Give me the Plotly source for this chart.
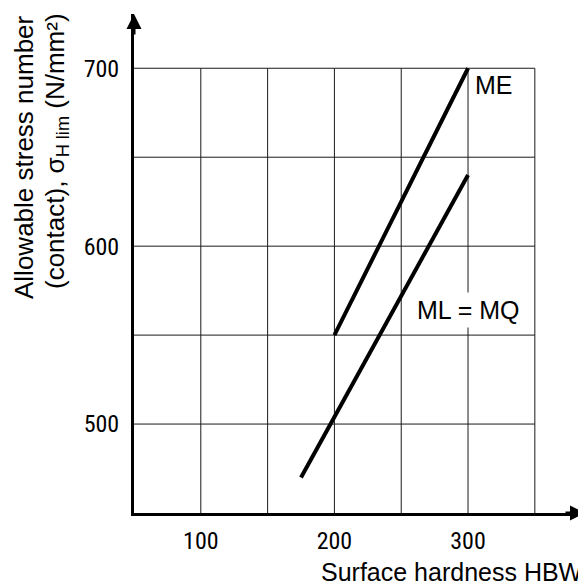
import plotly.graph_objects as go

# ---- data ----
hardness_ME = [200, 300]
stress_ME = [550, 700]
hardness_ML = [175, 300]
stress_ML = [470, 640]

x_grid = [100, 150, 200, 250, 300, 350]
y_grid = [500, 550, 600, 650, 700]
x_ticks = [100, 200, 300]
x_ticktext = ["100", "200", "300"]
y_ticks = [500, 600, 700]
y_ticktext = ["500", "600", "700"]

X_MIN, X_MAX = 50, 388.3
Y_MIN, Y_MAX = 450, 730.5

# page body has an 8px margin: figure drawn at offset (8, 8)
OFF = 8
L, T, B = 134 - OFF, 14 - OFF, 73
W = H = 586 - OFF
PW, PH = W - L, H - T - B


def px_x(p):
    return (p - OFF - L) / PW


def px_y(p):
    return (H - B - (p - OFF)) / PH


fig = go.Figure()

# grid lines
gx, gy = [], []
for xv in x_grid:
    gx += [xv, xv, None]
    gy += [Y_MIN, y_grid[-1], None]
for yv in y_grid:
    gx += [X_MIN, x_grid[-1], None]
    gy += [yv, yv, None]
fig.add_trace(go.Scatter(x=gx, y=gy, mode="lines",
                         line=dict(color="#1a1a1a", width=1),
                         hoverinfo="skip", showlegend=False))

fig.add_trace(go.Scatter(x=hardness_ME, y=stress_ME, mode="lines",
                         line=dict(color="black", width=4), showlegend=False))
fig.add_trace(go.Scatter(x=hardness_ML, y=stress_ML, mode="lines",
                         line=dict(color="black", width=4), showlegend=False))

tickfont = dict(family="Liberation Sans Narrow, Roboto Condensed, DejaVu Sans Condensed, Liberation Sans",
                size=24, color="black")
titlefont = "Liberation Sans, Arial, sans-serif"

fig.update_xaxes(range=[X_MIN, X_MAX], showgrid=False, zeroline=False,
                 showline=True, linecolor="black", linewidth=3,
                 tickvals=x_ticks, ticktext=x_ticktext, ticks="outside",
                 ticklen=4, tickcolor="rgba(0,0,0,0)", tickfont=tickfont)
fig.update_yaxes(range=[Y_MIN, Y_MAX], showgrid=False, zeroline=False,
                 showline=True, linecolor="black", linewidth=3,
                 tickvals=y_ticks, ticktext=y_ticktext, ticks="outside",
                 ticklen=7, tickcolor="rgba(0,0,0,0)", tickfont=tickfont)

annotations = [
    # axis arrowheads
    dict(x=1, y=0, xref="paper", yref="paper", ax=-22, ay=0, text="",
         showarrow=True, arrowhead=2, arrowsize=1, arrowwidth=3, arrowcolor="black"),
    dict(x=0, y=1, xref="paper", yref="paper", ax=0, ay=22, text="",
         showarrow=True, arrowhead=2, arrowsize=1, arrowwidth=3, arrowcolor="black"),
    # axis titles
    dict(x=px_x(585), y=px_y(572), xref="paper", yref="paper", xanchor="right", yanchor="middle",
         text="Surface hardness HBW", showarrow=False,
         font=dict(family=titlefont, size=25, color="black")),
    dict(x=px_x(24), y=px_y(13), xref="paper", yref="paper",
         xanchor="center", yanchor="top", textangle=-90,
         text="Allowable stress number", showarrow=False,
         font=dict(family=titlefont, size=26, color="black")),
    dict(x=px_x(56), y=px_y(11), xref="paper", yref="paper",
         xanchor="center", yanchor="top", textangle=-90,
         text="(contact), σ<sub>H lim</sub> (N/mm²)", showarrow=False,
         font=dict(family=titlefont, size=26, color="black")),
    # line labels
    dict(x=hardness_ME[-1], y=stress_ME[-1], xref="x", yref="y", xanchor="left", yanchor="top",
         xshift=5, yshift=-1, text="ME", showarrow=False,
         font=dict(family=titlefont, size=25, color="black")),
    dict(x=hardness_ML[-1], y=564, xref="x", yref="y", xanchor="center", yanchor="middle",
         text="ML = MQ", showarrow=False, bgcolor="white", borderpad=3,
         font=dict(family=titlefont, size=25, color="black")),
]

fig.update_layout(width=W, height=H, margin=dict(l=L, r=0, t=T, b=B),
                  paper_bgcolor="white", plot_bgcolor="white",
                  annotations=annotations, showlegend=False)

fig.write_html("out.html")
